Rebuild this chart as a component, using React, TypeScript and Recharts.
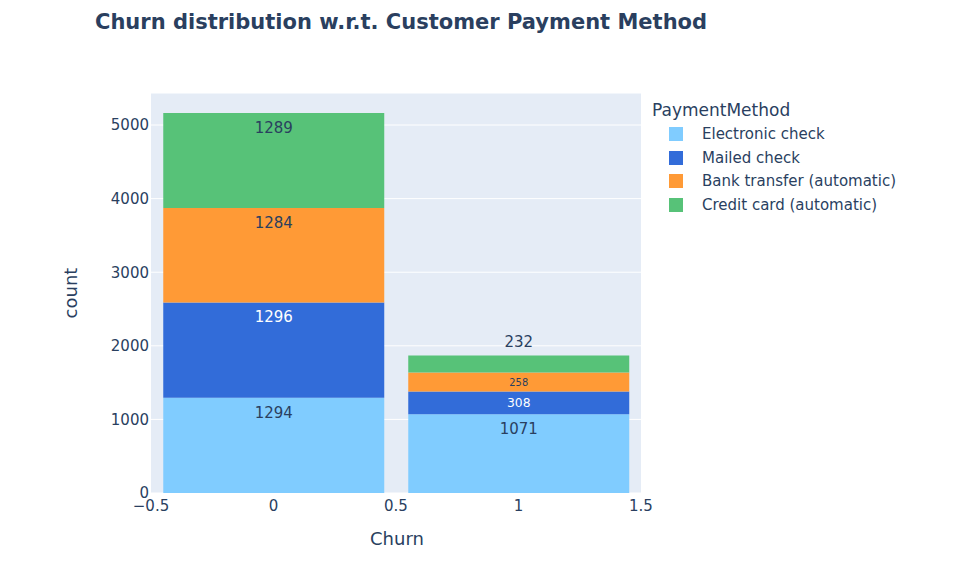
import { BarChart, Bar, XAxis, YAxis, CartesianGrid, LabelList } from 'recharts'

const churnValues = [0, 1]
const electronicCheck = [1294, 1071]
const mailedCheck = [1296, 308]
const bankTransfer = [1284, 258]
const creditCard = [1289, 232]

const xTicks = [-0.5, 0, 0.5, 1, 1.5]
const yTicks = [0, 1000, 2000, 3000, 4000, 5000]

const series = [
    { key: 'Electronic check', values: electronicCheck, color: '#80CCFF', text: '#2a3f5f' },
    { key: 'Mailed check', values: mailedCheck, color: '#326CD9', text: '#ffffff' },
    { key: 'Bank transfer (automatic)', values: bankTransfer, color: '#FF9A36', text: '#2a3f5f' },
    { key: 'Credit card (automatic)', values: creditCard, color: '#57C278', text: '#2a3f5f' },
]

const data = churnValues.map((c, i) => {
    const row: any = { churn: String(c), x: c }
    series.forEach(s => { row[s.key] = s.values[i] })
    return row
})

const FONT = '"DejaVu Sans", Verdana, sans-serif'
const INK = '#2a3f5f'

function makeLabel(textColor: string, outside: boolean) {
    return (props: any) => {
        const { x, y, width, height, value } = props
        const cx = x + width / 2
        if (height >= 30) {
            return (
                <text x={cx} y={y + 15} textAnchor="middle" dominantBaseline="central"
                    fill={textColor} fontSize={15} fontFamily={FONT}>{value}</text>
            )
        }
        if (outside) {
            return (
                <text x={cx} y={y - 13} textAnchor="middle" dominantBaseline="central"
                    fill={INK} fontSize={15} fontFamily={FONT}>{value}</text>
            )
        }
        const fs = Math.min(15, (height - 4) * 0.66)
        return (
            <text x={cx} y={y + height / 2} textAnchor="middle" dominantBaseline="central"
                fill={textColor} fontSize={fs} fontFamily={FONT}>{value}</text>
        )
    }
}

const fmtX = (v: number) => (v < 0 ? '\u2212' + String(Math.abs(v)) : String(v))

export default function App() {
    return (
        <div style={{ position: 'absolute', left: 0, top: 0, width: 961, height: 585, background: '#fff', fontFamily: FONT }}>
            <div style={{ position: 'absolute', left: 95, top: 10, fontSize: 21, fontWeight: 'bold', color: INK, whiteSpace: 'nowrap' }}>
                Churn distribution w.r.t. Customer Payment Method
            </div>

            <BarChart
                width={961}
                height={585}
                data={data}
                margin={{ top: 93, right: 320, bottom: 62, left: 91 }}
                barCategoryGap="5%"
            >
                <CartesianGrid vertical={false} stroke="#ffffff" fill="#E5ECF6" />
                <XAxis xAxisId="cat" dataKey="churn" type="category" hide />
                <XAxis
                    dataKey="x"
                    type="number"
                    domain={[-0.5, 1.5]}
                    ticks={xTicks}
                    tickFormatter={fmtX}
                    allowDataOverflow
                    height={30}
                    axisLine={false}
                    tickLine={false}
                    tickSize={0}
                    tickMargin={7}
                    tick={{ fill: INK, fontSize: 15, fontFamily: FONT }}
                />
                <YAxis
                    type="number"
                    domain={[0, 5435]}
                    ticks={yTicks}
                    allowDataOverflow
                    width={60}
                    axisLine={false}
                    tickLine={false}
                    tickSize={0}
                    tickMargin={2}
                    tick={{ fill: INK, fontSize: 15, fontFamily: FONT }}
                />
                {series.map((s, i) => (
                    <Bar
                        key={s.key}
                        xAxisId="cat"
                        dataKey={s.key}
                        stackId="a"
                        fill={s.color}
                        isAnimationActive={false}
                    >
                        <LabelList dataKey={s.key} content={makeLabel(s.text, i === series.length - 1)} />
                    </Bar>
                ))}
            </BarChart>

            <div style={{ position: 'absolute', left: 70, top: 293, transform: 'translate(-50%, -50%) rotate(-90deg)', fontSize: 18, color: INK }}>
                count
            </div>
            <div style={{ position: 'absolute', left: 397, top: 538, transform: 'translate(-50%, -50%)', fontSize: 18, color: INK }}>
                Churn
            </div>

            <div style={{ position: 'absolute', left: 652, top: 98, color: INK }}>
                <div style={{ fontSize: 17, height: 24, lineHeight: '24px' }}>PaymentMethod</div>
                {series.map(s => (
                    <div key={s.key} style={{ display: 'flex', alignItems: 'center', height: 23.7, fontSize: 15 }}>
                        <span style={{ display: 'inline-block', width: 14, height: 14, marginLeft: 17, marginRight: 19, background: s.color }} />
                        <span>{s.key}</span>
                    </div>
                ))}
            </div>
        </div>
    )
}
